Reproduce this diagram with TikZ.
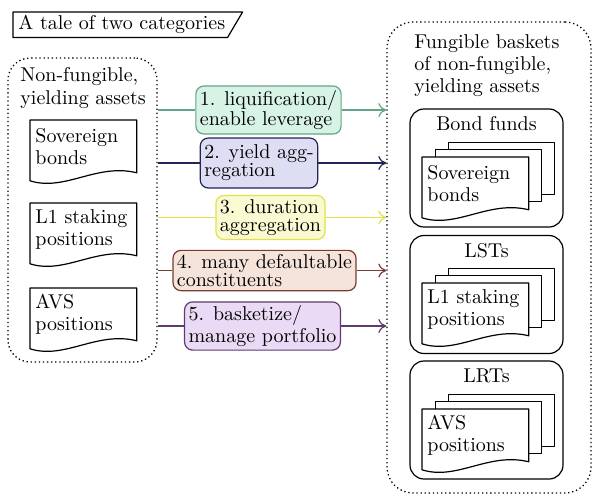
\documentclass[tikz,border=0pt]{standalone}
\usetikzlibrary{arrows.meta}

% colours of the five steps
\definecolor{liqline}{RGB}{100,165,135}
\definecolor{liqfill}{RGB}{214,243,229}
\definecolor{yldline}{RGB}{35,35,85}
\definecolor{yldfill}{RGB}{221,221,243}
\definecolor{durline}{RGB}{225,225,75}
\definecolor{durfill}{RGB}{250,250,210}
\definecolor{dftline}{RGB}{120,60,50}
\definecolor{dftfill}{RGB}{245,228,218}
\definecolor{bskline}{RGB}{95,60,110}
\definecolor{bskfill}{RGB}{235,218,245}

\tikzset{
  txt/.style={font=\fontsize{10}{11}\selectfont, align=left, inner sep=0pt},
  dotbox/.style={draw, line width=0.65pt, dash pattern=on 0.65pt off 1.4pt, rounded corners=11pt},
  docnode/.style={txt, anchor=north west, text width=48pt, inner xsep=2.5pt,
    minimum width=53pt, minimum height=26pt},
  groupbox/.style={draw, semithick, rounded corners=7pt, minimum width=76.5pt, minimum height=59pt},
  stepbox/.style={font=\fontsize{10}{9}\selectfont, align=left, rounded corners=4pt,
    semithick, inner xsep=2pt, inner ysep=2pt},
  steparrow/.style={semithick, -{To[length=4pt, width=7pt]}},
}

% outline of a document with a wavy bottom
\newcommand{\docwave}[1]{%
  \draw[semithick] (#1.north west) -- (#1.north east) -- (#1.south east)
    .. controls +(-40,-10) and +(35,11) .. ([yshift=-4pt]#1.south west) -- cycle;}

% a stack of three documents: name, north west corner, text
\newcommand{\docstack}[3]{%
  \foreach \k in {2,1}
    \draw[line width=0.5pt, fill=white, shift={(#2)}] (13*\k,-7.5*\k) rectangle +(106,52);
  \node[docnode, fill=white] (#1) at (#2) {#3};
  \docwave{#1}}

\begin{document}
\begin{tikzpicture}[x=0.5pt, y=-0.5pt, line join=round]
  \useasboundingbox (0,0) rectangle (605,500);

  % title
  \node[txt, anchor=north west, inner xsep=2.5pt, inner ysep=1.56pt] (title) at (13,12)
    {A tale of two categories};
  \draw[semithick] (title.north west) -- ([xshift=6pt]title.north east)
    -- ([xshift=-1.5pt]title.south east) -- (title.south west) -- cycle;

  % left: single assets
  \node[dotbox, minimum width=74.5pt, minimum height=152pt] (nf) at (82.5,210) {};
  \node[txt, anchor=north west, font=\fontsize{10}{11.5}\selectfont] (nft) at (20,67)
    {Non-fungible,\\yielding assets};
  \node[docnode] (sb) at (30,120) {Sovereign\\bonds};
  \docwave{sb}
  \node[docnode] (l1) at (30,203) {L1 staking\\positions};
  \docwave{l1}
  \node[docnode] (avs) at (30,288) {AVS\\positions};
  \docwave{avs}

  % right: baskets
  \node[dotbox, rounded corners=13pt, minimum width=102pt, minimum height=235.5pt] (fb) at (489,257.5) {};
  \node[txt, anchor=north west] (fbt) at (414,34)
    {Fungible baskets\\of non-fungible,\\yielding assets};

  \node[groupbox] (bf) at (486.5,168) {};
  \node[txt, anchor=north] (bft) at ([yshift=-4pt]bf.north) {Bond funds};
  \docstack{bfd}{422,157}{Sovereign\\bonds}

  \node[groupbox] (lst) at (486.5,294.5) {};
  \node[txt, anchor=north] (lstt) at ([yshift=-4pt]lst.north) {LSTs};
  \docstack{lstd}{422,283}{L1 staking\\positions}

  \node[groupbox] (lrt) at (486.5,420) {};
  \node[txt, anchor=north] (lrtt) at ([yshift=-4pt]lrt.north) {LRTs};
  \docstack{lrtd}{422,409}{AVS\\positions}

  % the five steps
  \node[stepbox, draw=liqline, fill=liqfill] (s1) at (268.5,110)
    {1. liquification/\\enable leverage};
  \node[stepbox, draw=yldline, fill=yldfill, minimum height=25pt] (s2) at (259,163)
    {2. yield agg-\\regation};
  \node[stepbox, draw=durline, fill=durfill] (s3) at (270.5,217.5)
    {3. duration\\aggregation};
  \node[stepbox, draw=dftline, fill=dftfill] (s4) at (264.5,270.5)
    {4. many defaultable\\constituents};
  \node[stepbox, draw=bskline, fill=bskfill] (s5) at (262.5,326)
    {5. basketize/\\manage portfolio};

  \draw[semithick, liqline] (nf.east |- s1) -- (s1);
  \draw[steparrow, liqline] (s1) -- (fb.west |- s1);
  \draw[semithick, yldline] (nf.east |- s2) -- (s2);
  \draw[steparrow, yldline] (s2) -- (fb.west |- s2);
  \draw[semithick, durline] (nf.east |- s3) -- (s3);
  \draw[steparrow, durline] (s3) -- (fb.west |- s3);
  \draw[semithick, dftline] (nf.east |- s4) -- (s4);
  \draw[steparrow, dftline] (s4) -- (fb.west |- s4);
  \draw[semithick, bskline] (nf.east |- s5) -- (s5);
  \draw[steparrow, bskline] (s5) -- (fb.west |- s5);
\end{tikzpicture}
\end{document}
